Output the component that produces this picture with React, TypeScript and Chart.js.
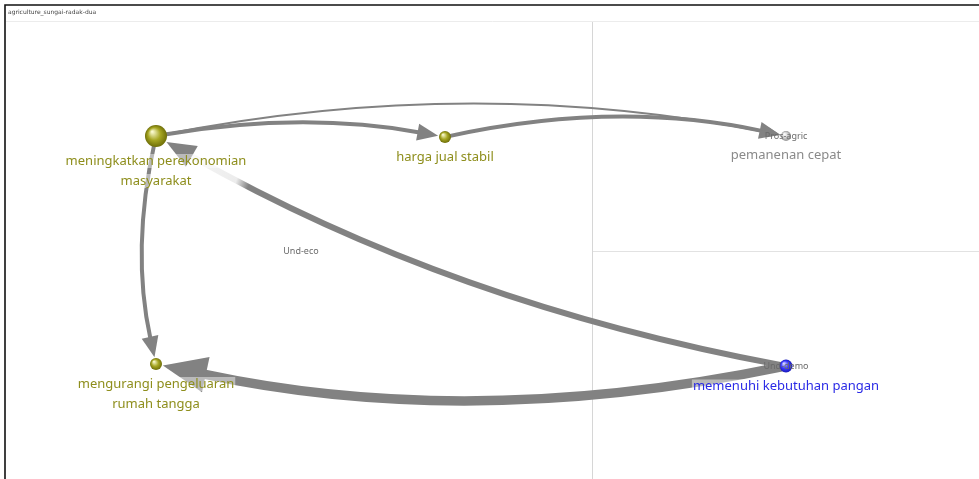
import React, { useEffect, useRef } from 'react';
import { Chart, registerables } from 'chart.js';

Chart.register(...registerables);

// ---- data ----
const chartTitle = 'agriculture_sungai-radak-dua';
const nodeLabels: string[][] = [
  ['meningkatkan perekonomian', 'masyarakat'],
  ['harga jual stabil'],
  ['pemanenan cepat'],
  ['mengurangi pengeluaran', 'rumah tangga'],
  ['memenuhi kebutuhan pangan'],
  [],
];
const nodeTags = ['', '', 'Pros-agric', '', 'Und-demo', 'Und-eco'];
const nodeX = [156, 445, 786, 156, 786, 301];
const nodeY = [136, 137, 136, 364, 366, 251];
const nodeSize = [11, 6, 5, 6, 6.5, 0];
const nodeGroup = ['eco', 'eco', 'agric', 'eco', 'demo', 'none'];

const edgeFrom = [0, 1, 0, 0, 4, 4];
const edgeTo = [1, 2, 2, 3, 3, 0];
const edgeWeight = [4, 4, 2, 4, 9.5, 6];
const edgeBend = [0.088, 0.108, 0.1, -0.11, 0.105, 0.084];

// ---- styles ----
const groupStyle: Record<string, { light: string; base: string; dark: string; text: string }> = {
  eco: { light: '#fafad0', base: '#a6a622', dark: '#6e6e08', text: '#8e8e1c' },
  agric: { light: '#ffffff', base: '#d0d0d0', dark: '#929292', text: '#8a8a8a' },
  demo: { light: '#d8d8ff', base: '#3b3bff', dark: '#1818b8', text: '#2a2ae6' },
  none: { light: '#fff', base: '#fff', dark: '#fff', text: '#777' },
};
const edgeColor = '#828282';
const edgeFade: Record<number, [number, number]> = { 5: [0.865, 0.95] };
const labelFont = '13px "Noto Sans", "Open Sans", sans-serif';
const tagFont = '9px "Noto Sans", sans-serif';

const networkPlugin = {
  id: 'network',
  beforeDraw(chart: any) {
    const ctx = chart.ctx as CanvasRenderingContext2D;
    const W = chart.width;
    const H = chart.height;
    ctx.save();
    ctx.fillStyle = '#ffffff';
    ctx.fillRect(0, 0, W, H);
    // outer frame
    ctx.strokeStyle = '#111111';
    ctx.lineWidth = 1.6;
    ctx.beginPath();
    ctx.moveTo(5, H + 2);
    ctx.lineTo(5, 5);
    ctx.lineTo(W + 2, 5);
    ctx.stroke();
    // header separator
    ctx.strokeStyle = '#ececec';
    ctx.lineWidth = 1;
    ctx.beginPath();
    ctx.moveTo(6, 21.5);
    ctx.lineTo(W, 21.5);
    ctx.stroke();
    // quadrant lines
    ctx.strokeStyle = '#d6d6d6';
    ctx.beginPath();
    ctx.moveTo(592.5, 22);
    ctx.lineTo(592.5, H);
    ctx.stroke();
    ctx.strokeStyle = '#e2e2e2';
    ctx.beginPath();
    ctx.moveTo(593, 251.5);
    ctx.lineTo(W, 251.5);
    ctx.stroke();
    // title
    ctx.fillStyle = '#444';
    ctx.font = '6px "DejaVu Sans", sans-serif';
    ctx.textBaseline = 'middle';
    ctx.textAlign = 'left';
    ctx.fillText(chartTitle, 8, 12);
    ctx.restore();
  },
  beforeDatasetsDraw(chart: any) {
    const ctx = chart.ctx as CanvasRenderingContext2D;
    const pts = chart.getDatasetMeta(0).data;
    ctx.save();
    edgeFrom.forEach((f, i) => {
      const t = edgeTo[i];
      const p0 = { x: pts[f].x, y: pts[f].y };
      const p2 = { x: pts[t].x, y: pts[t].y };
      const dx = p2.x - p0.x;
      const dy = p2.y - p0.y;
      const L = Math.hypot(dx, dy);
      const nx = dy / L;
      const ny = -dx / L;
      const c = {
        x: (p0.x + p2.x) / 2 + nx * edgeBend[i] * L,
        y: (p0.y + p2.y) / 2 + ny * edgeBend[i] * L,
      };
      const w = edgeWeight[i];
      const ex = p2.x - c.x;
      const ey = p2.y - c.y;
      const el = Math.hypot(ex, ey);
      const ux = ex / el;
      const uy = ey / el;
      const rT = nodeSize[t] + 1;
      const tip = { x: p2.x - ux * rT, y: p2.y - uy * rT };
      const alen = w * 4.2 + 4;
      const ahw = w * 1.75 + 1.5;
      const base = { x: tip.x - ux * alen, y: tip.y - uy * alen };
      const sx = c.x - p0.x;
      const sy = c.y - p0.y;
      const sl = Math.hypot(sx, sy);
      const start = { x: p0.x + (sx / sl) * nodeSize[f] * 0.5, y: p0.y + (sy / sl) * nodeSize[f] * 0.5 };

      let stroke: any = edgeColor;
      const fade = edgeFade[i];
      if (fade) {
        const g = ctx.createLinearGradient(p0.x, p0.y, p2.x, p2.y);
        g.addColorStop(0, edgeColor);
        g.addColorStop(fade[0] - 0.02, edgeColor);
        g.addColorStop(fade[0], '#ececec');
        g.addColorStop(fade[1], '#f6f6f6');
        g.addColorStop(Math.min(1, fade[1] + 0.01), edgeColor);
        g.addColorStop(1, edgeColor);
        stroke = g;
      }
      ctx.strokeStyle = stroke;
      ctx.lineWidth = w;
      ctx.lineCap = 'butt';
      ctx.beginPath();
      ctx.moveTo(start.x, start.y);
      ctx.quadraticCurveTo(c.x, c.y, base.x + ux * 2, base.y + uy * 2);
      ctx.stroke();

      ctx.fillStyle = edgeColor;
      ctx.beginPath();
      ctx.moveTo(tip.x, tip.y);
      ctx.lineTo(base.x - uy * ahw, base.y + ux * ahw);
      ctx.lineTo(base.x + uy * ahw, base.y - ux * ahw);
      ctx.closePath();
      ctx.fill();
    });
    ctx.restore();
  },
  afterDatasetsDraw(chart: any) {
    const ctx = chart.ctx as CanvasRenderingContext2D;
    const pts = chart.getDatasetMeta(0).data;
    ctx.save();
    // spheres
    pts.forEach((p: any, i: number) => {
      const r = nodeSize[i];
      if (!r) return;
      const st = groupStyle[nodeGroup[i]];
      const g = ctx.createRadialGradient(p.x - r * 0.35, p.y - r * 0.4, r * 0.05, p.x, p.y, r);
      g.addColorStop(0, st.light);
      g.addColorStop(0.55, st.base);
      g.addColorStop(1, st.dark);
      ctx.fillStyle = g;
      ctx.beginPath();
      ctx.arc(p.x, p.y, r, 0, Math.PI * 2);
      ctx.fill();
    });
    // tags
    ctx.font = tagFont;
    ctx.textAlign = 'center';
    ctx.textBaseline = 'middle';
    ctx.fillStyle = '#6a6a6a';
    pts.forEach((p: any, i: number) => {
      if (nodeTags[i]) ctx.fillText(nodeTags[i], p.x, p.y);
    });
    // labels with soft white backing
    ctx.font = labelFont;
    pts.forEach((p: any, i: number) => {
      const st = groupStyle[nodeGroup[i]];
      nodeLabels[i].forEach((line, k) => {
        const y = p.y + nodeSize[i] + 14 + k * 20;
        const w = ctx.measureText(line).width;
        ctx.fillStyle = 'rgba(255,255,255,0.45)';
        ctx.fillRect(p.x - w / 2 - 1, y - 7, w + 2, 14);
        ctx.fillStyle = st.text;
        ctx.fillText(line, p.x, y);
      });
    });
    ctx.restore();
  },
};

export default function App() {
  const ref = useRef<HTMLCanvasElement | null>(null);
  useEffect(() => {
    if (!ref.current) return;
    const chart = new Chart(ref.current, {
      type: 'scatter',
      data: {
        datasets: [
          {
            data: nodeX.map((x, i) => ({ x, y: nodeY[i] })),
            pointRadius: 0,
            pointHoverRadius: 0,
          },
        ],
      },
      options: {
        animation: false,
        responsive: false,
        events: [],
        layout: { padding: 0 },
        plugins: { legend: { display: false }, tooltip: { enabled: false } },
        scales: {
          x: { type: 'linear', min: 0, max: 979, display: false },
          y: { type: 'linear', min: 0, max: 479, reverse: true, display: false },
        },
      },
      plugins: [networkPlugin],
    } as any);
    return () => chart.destroy();
  }, []);
  return (
    <div style={{ position: 'absolute', left: 0, top: 0, width: 979, height: 479 }}>
      <canvas ref={ref} width={979} height={479} style={{ display: 'block', width: 979, height: 479 }} />
    </div>
  );
}
